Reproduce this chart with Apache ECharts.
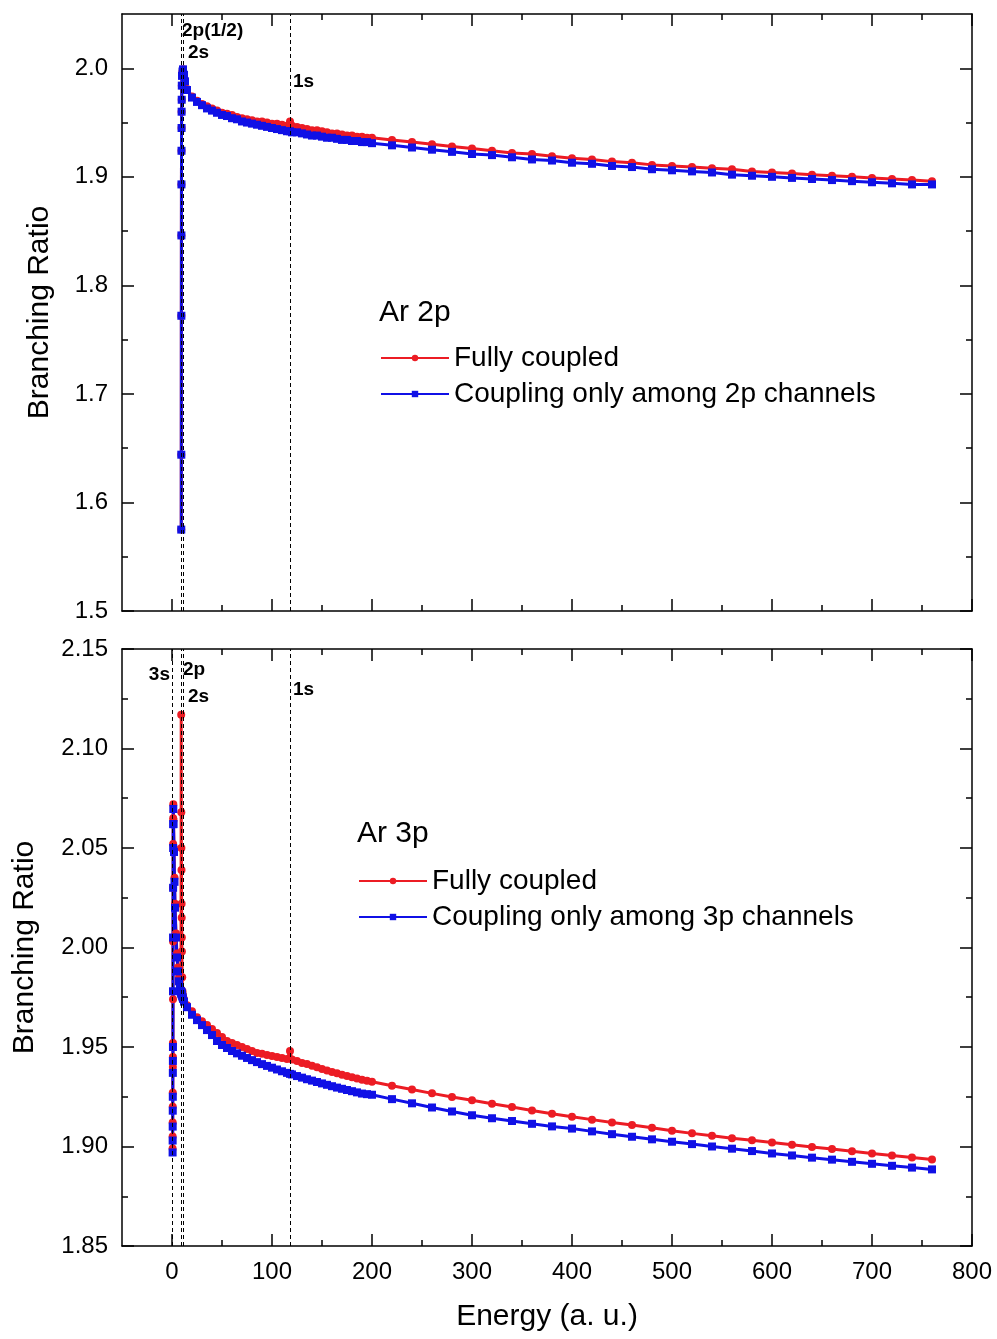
<!DOCTYPE html>
<html><head><meta charset="utf-8">
<script src="https://cdn.jsdelivr.net/npm/echarts@6/dist/echarts.min.js"></script>
<style>html,body{margin:0;padding:0;background:#fff}#c{width:997px;height:1339px}</style>
</head><body><div id="c"></div>
<script>
// ---------- data ----------
const FONT = "'Liberation Sans', Arial, sans-serif";
const RED = '#ec1c24';
const BLUE = '#1010e6';

const xTicks = [0, 100, 200, 300, 400, 500, 600, 700, 800];
const xMinorTicks = [50, 150, 250, 350, 450, 550, 650, 750];
const topYTicks = [1.5, 1.6, 1.7, 1.8, 1.9, 2.0];
const topYMinor = [1.55, 1.65, 1.75, 1.85, 1.95];
const botYTicks = [1.85, 1.90, 1.95, 2.00, 2.05, 2.10, 2.15];
const botYMinor = [1.875, 1.925, 1.975, 2.025, 2.075, 2.125];

const topEdges = [9.6, 11.6, 118.3];
const topEdgeLabels = ['2p(1/2)', '2s', '1s'];
const botEdges = [0.5, 9.6, 11.6, 118.3];
const botEdgeLabels = ['3s', '2p', '2s', '1s'];

// Ar 2p panel
const topE = [9.25, 9.3, 9.35, 9.4, 9.45, 9.5, 9.55, 9.6, 9.7, 9.8, 10, 10.5, 11,
  12, 13, 15, 20, 25, 30, 35, 40, 45, 50, 55, 60, 65, 70, 75, 80, 85, 90, 95, 100, 105, 110, 115,
  118, 120, 125, 130, 135, 140, 145, 150, 155, 160, 165, 170, 175, 180, 185, 190, 195, 200,
  220, 240, 260, 280, 300, 320, 340, 360, 380, 400, 420, 440, 460, 480, 500, 520, 540, 560, 580,
  600, 620, 640, 660, 680, 700, 720, 740, 760];
const topRed = [1.575, 1.644, 1.772, 1.846, 1.893, 1.924, 1.945, 1.960, 1.971, 1.984, 1.993, 1.997, 1.999,
  1.994, 1.988, 1.981, 1.974, 1.970, 1.967, 1.965, 1.963, 1.961, 1.959, 1.958, 1.957, 1.955, 1.954, 1.953, 1.952, 1.951, 1.951, 1.950, 1.949, 1.949, 1.948, 1.947,
  1.951, 1.947, 1.946, 1.945, 1.944, 1.943, 1.943, 1.942, 1.941, 1.940, 1.940, 1.939, 1.938, 1.938, 1.937, 1.937, 1.936, 1.936,
  1.934, 1.932, 1.930, 1.928, 1.926, 1.924, 1.922, 1.921, 1.919, 1.917, 1.916, 1.914, 1.913, 1.911, 1.910, 1.909, 1.908, 1.907, 1.905,
  1.904, 1.903, 1.902, 1.901, 1.900, 1.899, 1.898, 1.897, 1.896];
const topBlue = [1.575, 1.644, 1.772, 1.846, 1.893, 1.924, 1.945, 1.960, 1.971, 1.984, 1.993, 1.997, 1.999,
  1.994, 1.988, 1.980, 1.973, 1.969, 1.966, 1.963, 1.961, 1.959, 1.957, 1.956, 1.954, 1.953, 1.951, 1.950, 1.949, 1.948, 1.947, 1.946, 1.945, 1.944, 1.943, 1.942,
  1.942, 1.941, 1.941, 1.940, 1.939, 1.938, 1.938, 1.937, 1.936, 1.936, 1.935, 1.934, 1.934, 1.933, 1.933, 1.932, 1.932, 1.931,
  1.929, 1.927, 1.925, 1.923, 1.921, 1.920, 1.918, 1.916, 1.915, 1.913, 1.912, 1.910, 1.909, 1.907, 1.906, 1.905, 1.904, 1.902, 1.901,
  1.900, 1.899, 1.898, 1.897, 1.896, 1.895, 1.894, 1.893, 1.893];

// Ar 3p panel
const botE = [0.6, 0.65, 0.7, 0.75, 0.8, 0.85, 0.9, 0.95, 1.0, 1.05, 1.1, 1.15, 1.2, 1.3,
  1.5, 2, 2.5, 3, 4, 5, 6, 7, 8, 9,
  9.2, 9.3, 9.4, 9.5, 9.6, 9.7, 9.8, 9.9, 10.2, 10.5, 11, 12, 15,
  20, 25, 30, 35, 40, 45, 50, 55, 60, 65, 70, 75, 80, 85, 90, 95, 100, 105, 110, 115,
  118, 120, 125, 130, 135, 140, 145, 150, 155, 160, 165, 170, 175, 180, 185, 190, 195, 200,
  220, 240, 260, 280, 300, 320, 340, 360, 380, 400, 420, 440, 460, 480, 500, 520, 540, 560, 580,
  600, 620, 640, 660, 680, 700, 720, 740, 760];
const botRed = [1.899, 1.905, 1.912, 1.920, 1.927, 1.940, 1.945, 1.952, 1.974, 2.003, 2.030, 2.052, 2.065, 2.072,
  2.064, 2.050, 2.035, 2.022, 2.007, 1.997, 1.990, 1.985, 1.981, 1.979,
  2.117, 2.068, 2.050, 2.039, 2.022, 2.015, 2.005, 1.998, 1.985, 1.978, 1.976, 1.974, 1.971,
  1.968, 1.965, 1.963, 1.961, 1.959, 1.957, 1.955, 1.953, 1.952, 1.951, 1.950, 1.949, 1.948, 1.947, 1.9466, 1.946, 1.9455, 1.945, 1.9445, 1.944,
  1.948, 1.9437, 1.943, 1.942, 1.9414, 1.9406, 1.9398, 1.939, 1.9382, 1.9375, 1.9368, 1.9361, 1.9354, 1.9348, 1.9342, 1.9336, 1.933, 1.9325,
  1.9305, 1.9286, 1.9267, 1.9249, 1.9232, 1.9215, 1.9198, 1.9181, 1.9165, 1.9149, 1.9135, 1.9121, 1.9108, 1.9094, 1.9079, 1.9066, 1.9054, 1.9042, 1.9031,
  1.902, 1.9009, 1.8998, 1.8987, 1.8976, 1.8965, 1.8955, 1.8945, 1.8935];
const botBlue = [1.897, 1.903, 1.910, 1.918, 1.925, 1.937, 1.943, 1.950, 1.978, 2.005, 2.030, 2.050, 2.062, 2.0696,
  2.062, 2.048, 2.033, 2.020, 2.005, 1.995, 1.988, 1.983, 1.980, 1.978,
  1.9778, 1.9775, 1.9772, 1.977, 1.9768, 1.9766, 1.9764, 1.9762, 1.9756, 1.975, 1.9742, 1.9728, 1.970,
  1.9662, 1.9635, 1.961, 1.9585, 1.956, 1.953, 1.951, 1.9495, 1.948, 1.9468, 1.9456, 1.9445, 1.9434, 1.9424, 1.9414, 1.9405, 1.9396, 1.9387, 1.9378, 1.937,
  1.9365, 1.9362, 1.9354, 1.9346, 1.9338, 1.9331, 1.9324, 1.9317, 1.931, 1.9303, 1.9296, 1.929, 1.9284, 1.9278, 1.9272, 1.9266, 1.9263, 1.926,
  1.9238, 1.9217, 1.9196, 1.9176, 1.9157, 1.9142, 1.9128, 1.9114, 1.9101, 1.909, 1.9076, 1.9062, 1.9049, 1.9036, 1.9024, 1.9012, 1.9, 1.8989, 1.8977,
  1.8965, 1.8955, 1.8944, 1.8934, 1.8923, 1.8913, 1.8903, 1.8894, 1.8885];

// ---------- chart ----------
const pairs = (xs, ys) => xs.map((x, i) => [x, ys[i]]);
const grids = [
  {left: 122, top: 14, width: 850, height: 597},
  {left: 122, top: 649, width: 850, height: 597}
];

function axes(dim, gridIndex, pos, min, max, major, minor, labels, fmt, name, nameGap) {
  const base = {
    type: 'value', gridIndex, position: pos, min, max,
    splitLine: {show: false},
    axisLine: {show: true, onZero: false, lineStyle: {color: '#000', width: 1.5}},
    axisTick: {show: true, inside: true, length: 12, customValues: major, lineStyle: {color: '#000', width: 1.5}},
    axisLabel: {show: labels, customValues: major, formatter: fmt, color: '#000', fontSize: 24, fontFamily: FONT, margin: 14}
  };
  if (name) {
    Object.assign(base, {
      name, nameLocation: 'middle', nameGap,
      nameTextStyle: {color: '#000', fontSize: 30, fontFamily: FONT}
    });
  }
  const minorAx = {
    type: 'value', gridIndex, position: pos, min, max,
    splitLine: {show: false},
    axisLine: {show: false, onZero: false},
    axisTick: {show: true, inside: true, length: 6, customValues: minor, lineStyle: {color: '#000', width: 1.5}},
    axisLabel: {show: false}
  };
  return [base, minorAx];
}

const xAxis = [
  ...axes('x', 0, 'bottom', -50, 800, xTicks, xMinorTicks, false),
  ...axes('x', 0, 'top', -50, 800, xTicks, xMinorTicks, false),
  ...axes('x', 1, 'bottom', -50, 800, xTicks, xMinorTicks, true, v => String(v), 'Energy (a. u.)', 56),
  ...axes('x', 1, 'top', -50, 800, xTicks, xMinorTicks, false)
];
const yAxis = [
  ...axes('y', 0, 'left', 1.5, 2.05, topYTicks, topYMinor, true, v => v.toFixed(1), 'Branching Ratio', 67),
  ...axes('y', 0, 'right', 1.5, 2.05, topYTicks, topYMinor, false),
  ...axes('y', 1, 'left', 1.85, 2.15, botYTicks, botYMinor, true, v => v.toFixed(2), 'Branching Ratio', 82),
  ...axes('y', 1, 'right', 1.85, 2.15, botYTicks, botYMinor, false)
];

function edgeLines(vals) {
  return {
    silent: true, symbol: ['none', 'none'], animation: false,
    label: {show: false},
    lineStyle: {color: '#000', width: 1, type: [4, 3]},
    emphasis: {disabled: true},
    data: vals.map(v => ({xAxis: v}))
  };
}

function lineSeries(name, data, color, symbol, xi, yi, mark) {
  const s = {
    type: 'line', name, data, xAxisIndex: xi, yAxisIndex: yi,
    symbol, symbolSize: 8, showSymbol: true,
    lineStyle: {color, width: 3},
    itemStyle: {color},
    emphasis: {disabled: true},
    animation: false
  };
  if (mark) s.markLine = mark;
  return s;
}

const series = [
  lineSeries('Fully coupled', pairs(topE, topRed), RED, 'circle', 0, 0, edgeLines(topEdges)),
  lineSeries('Coupling only among 2p channels', pairs(topE, topBlue), BLUE, 'rect', 0, 0),
  lineSeries('Fully coupled', pairs(botE, botRed), RED, 'circle', 4, 4, edgeLines(botEdges)),
  lineSeries('Coupling only among 3p channels', pairs(botE, botBlue), BLUE, 'rect', 4, 4)
];

const legendText = {fontSize: 28, fontFamily: FONT, color: '#000'};
const legend = [
  {left: 375, top: 339, orient: 'vertical', itemWidth: 68, itemHeight: 8, itemGap: 8,
   selectedMode: false, textStyle: legendText,
   data: ['Fully coupled', 'Coupling only among 2p channels']},
  {left: 353, top: 862, orient: 'vertical', itemWidth: 68, itemHeight: 8, itemGap: 8,
   selectedMode: false, textStyle: legendText,
   data: ['Fully coupled', 'Coupling only among 3p channels']}
];

const boldLbl = (text, x, y, align) => ({
  type: 'text', z: 100,
  style: {text, x, y, align: align || 'left', verticalAlign: 'middle',
          font: 'bold 19px ' + FONT, fill: '#000'}
});
const plainLbl = (text, x, y) => ({
  type: 'text', z: 100,
  style: {text, x, y, align: 'left', verticalAlign: 'middle', font: '30px ' + FONT, fill: '#000'}
});

const graphic = [
  boldLbl(topEdgeLabels[0], 182, 31),
  boldLbl(topEdgeLabels[1], 188, 53),
  boldLbl(topEdgeLabels[2], 293, 82),
  boldLbl(botEdgeLabels[0], 170, 675, 'right'),
  boldLbl(botEdgeLabels[1], 183, 670),
  boldLbl(botEdgeLabels[2], 188, 697),
  boldLbl(botEdgeLabels[3], 293, 690),
  plainLbl('Ar 2p', 379, 313),
  plainLbl('Ar 3p', 357, 834)
];

const chart = echarts.init(document.getElementById('c'), null, {renderer: 'canvas'});
chart.setOption({
  animation: false,
  backgroundColor: '#fff',
  grid: grids,
  xAxis, yAxis, series, legend, graphic
});
</script></body></html>
